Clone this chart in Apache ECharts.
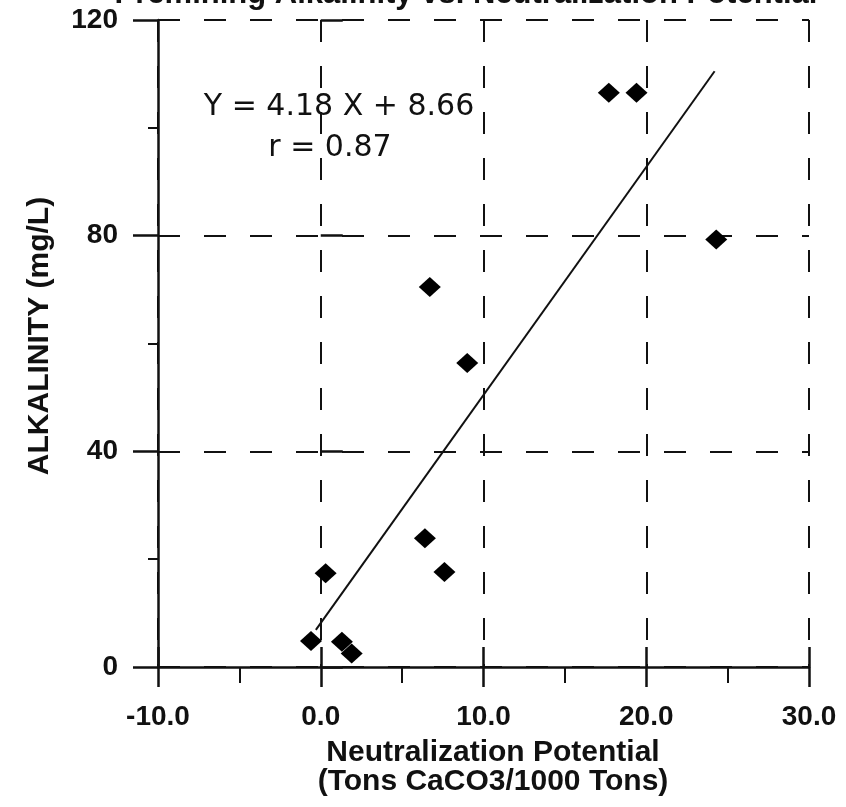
<!DOCTYPE html>
<html><head><meta charset="utf-8">
<script src="https://cdn.jsdelivr.net/npm/echarts@6/dist/echarts.min.js"></script>
<style>html,body{margin:0;padding:0;background:#fff}#c{width:846px;height:807px}</style>
</head><body><div id="c"></div>
<script>
const titleText = 'Premining Alkalinity vs. Neutralization Potential';
const xAxisTitle = 'Neutralization Potential\n(Tons CaCO3/1000 Tons)';
const yAxisTitle = 'ALKALINITY (mg/L)';
const equationText = 'Y = 4.18 X + 8.66';
const rText = 'r = 0.87';
const npValues  = [17.7, 19.4, 24.3, 6.7, 9.0, 6.4, 7.6, 0.3, -0.6, 1.3, 1.9];
const alkValues = [106.5, 106.5, 79.3, 70.5, 56.4, 23.9, 17.6, 17.4, 4.8, 4.7, 2.5];
const fitX = [-0.3, 24.2];
const fitY = [6.9, 110.5];
const xRange = [-10, 30, 10];
const yRange = [0, 120, 40];

const INK = '#111';
const FONT = '"Liberation Sans", Arial, sans-serif';
const pts = npValues.map((x, i) => [x, alkValues[i]]);
const fitPts = fitX.map((x, i) => [x, fitY[i]]);

const chart = echarts.init(document.getElementById('c'), null, {renderer: 'canvas'});
const dash = {type: [22, 24], color: INK, width: 2};
chart.setOption({
  animation: false,
  backgroundColor: '#fff',
  grid: {left: 158, right: 37, top: 20, bottom: 140},
  xAxis: [{
    type: 'value', min: xRange[0], max: xRange[1], interval: xRange[2], position: 'bottom',
    axisLine: {show: true, onZero: false, lineStyle: {color: INK, width: 2.5}},
    axisTick: {show: true, inside: false, length: 20, lineStyle: {color: INK, width: 2.5}},
    minorTick: {show: true, splitNumber: 2, length: 16, lineStyle: {color: INK, width: 2}},
    axisLabel: {margin: 36, fontSize: 28, fontWeight: 'bold', color: INK, fontFamily: FONT,
      formatter: v => v.toFixed(1)},
    splitLine: {show: true, lineStyle: dash}
  }, {
    type: 'value', min: xRange[0], max: xRange[1], interval: xRange[2], position: 'bottom',
    axisLine: {show: false}, axisLabel: {show: false}, splitLine: {show: false},
    axisTick: {show: true, inside: true, length: 20, lineStyle: {color: INK, width: 2.5}}
  }],
  yAxis: [{
    type: 'value', min: yRange[0], max: yRange[1], interval: yRange[2], position: 'left',
    axisLine: {show: true, onZero: false, lineStyle: {color: INK, width: 2.5}},
    axisTick: {show: true, inside: false, length: 25, lineStyle: {color: INK, width: 2.5}},
    minorTick: {show: true, splitNumber: 2, length: 10, lineStyle: {color: INK, width: 2}},
    axisLabel: {margin: 40, fontSize: 28, fontWeight: 'bold', color: INK, fontFamily: FONT},
    splitLine: {show: true, lineStyle: dash}
  }, {
    type: 'value', min: yRange[0], max: yRange[1], interval: yRange[2], position: 'left',
    axisLine: {show: false}, axisLabel: {show: false}, splitLine: {show: false},
    axisTick: {show: true, inside: true, length: 22, lineStyle: {color: INK, width: 2.5}}
  }],
  series: [{
    type: 'line', data: fitPts, xAxisIndex: 0, yAxisIndex: 0,
    symbol: 'none', lineStyle: {color: INK, width: 2}, z: 3, silent: true
  }, {
    type: 'scatter', data: pts, xAxisIndex: 0, yAxisIndex: 0,
    symbol: 'diamond', symbolSize: [22, 20], itemStyle: {color: '#000', opacity: 1}, z: 4
  }],
  graphic: [{
    type: 'text', x: 466, y: -21, z: 10,
    style: {text: titleText, align: 'center', verticalAlign: 'top',
      font: 'bold 31px ' + FONT, fill: INK}
  }, {
    type: 'text', x: 339, y: 107, z: 10,
    style: {text: equationText, align: 'center', verticalAlign: 'middle',
      font: '30px "DejaVu Sans", sans-serif', fill: INK}
  }, {
    type: 'text', x: 330, y: 148, z: 10,
    style: {text: rText, align: 'center', verticalAlign: 'middle',
      font: '30px "DejaVu Sans", sans-serif', fill: INK}
  }, {
    type: 'text', x: 493, y: 738, z: 10,
    style: {text: xAxisTitle, align: 'center', verticalAlign: 'top', lineHeight: 29,
      font: 'bold 30px ' + FONT, fill: INK}
  }, {
    type: 'text', x: 40, y: 336, rotation: Math.PI / 2, z: 10,
    style: {text: yAxisTitle, align: 'center', verticalAlign: 'middle',
      font: 'bold 30px ' + FONT, fill: INK}
  }]
});
</script>
</body></html>
